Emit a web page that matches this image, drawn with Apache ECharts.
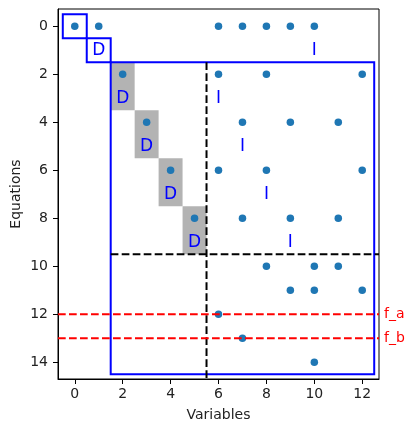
<!DOCTYPE html>
<html><head><meta charset="utf-8">
<script src="https://cdn.jsdelivr.net/npm/echarts@6/dist/echarts.min.js"></script>
<style>html,body{margin:0;padding:0;background:#fff}#c{width:414px;height:432px}</style>
</head><body><div id="c"></div>
<script>
const xTicks = [0, 2, 4, 6, 8, 10, 12];
const yTicks = [0, 2, 4, 6, 8, 10, 12, 14];
const points = [
  [0,0],[1,0],[6,0],[7,0],[8,0],[9,0],[10,0],
  [2,2],[6,2],[8,2],[12,2],
  [3,4],[7,4],[9,4],[11,4],
  [4,6],[6,6],[8,6],[12,6],
  [5,8],[7,8],[9,8],[11,8],
  [8,10],[10,10],[11,10],
  [9,11],[10,11],[12,11],
  [6,12],[7,13],[10,14]
];
const blueBoxes = [[-0.5,-0.5,0.5,0.5],[0.5,0.5,1.5,1.5],[1.5,1.5,12.5,14.5]];
const grayBlocks = [[1.5,1.5,2.5,3.5],[2.5,3.5,3.5,5.5],[3.5,5.5,4.5,7.5],[4.5,7.5,5.5,9.5]];
const dLabels = [[1,1,'D'],[2,3,'D'],[3,5,'D'],[4,7,'D'],[5,9,'D']];
const iLabels = [[10,1,'I'],[6,3,'I'],[7,5,'I'],[8,7,'I'],[9,9,'I']];
const blackDashes = [[5.5,1.5,5.5,14.7],[1.5,9.5,12.7,9.5]];
const redLines = [[12,'f_a'],[13,'f_b']];
const X_MIN = -0.7, X_MAX = 12.7, Y_MIN = -0.72, Y_MAX = 14.7;

const FONT = 'DejaVu Sans';
function rectRender(fill, stroke, lw) {
  return function (params, api) {
    const p0 = api.coord([api.value(0), api.value(1)]);
    const p1 = api.coord([api.value(2), api.value(3)]);
    return {
      type: 'rect',
      shape: { x: Math.min(p0[0], p1[0]), y: Math.min(p0[1], p1[1]),
               width: Math.abs(p1[0] - p0[0]), height: Math.abs(p1[1] - p0[1]) },
      style: { fill: fill, stroke: stroke, lineWidth: lw }
    };
  };
}
function textRender(params, api) {
  const p = api.coord([api.value(0), api.value(1)]);
  return {
    type: 'text', x: p[0], y: p[1],
    style: { text: api.value(2), fill: '#0000ff', font: '17px "' + FONT + '"',
             align: 'center', verticalAlign: 'middle' }
  };
}
const chart = echarts.init(document.getElementById('c'), null, { renderer: 'canvas' });
chart.setOption({
  animation: false,
  backgroundColor: '#fff',
  grid: { left: 58, top: 9, width: 321, height: 370, containLabel: false, outerBoundsMode: 'none',
          show: true, borderColor: '#000', borderWidth: 1, backgroundColor: 'transparent' },
  xAxis: {
    type: 'value', min: X_MIN, max: X_MAX,
    axisLine: { show: true, onZero: false, lineStyle: { color: '#000', width: 1 } },
    axisTick: { show: true, customValues: xTicks, length: 5, lineStyle: { color: '#000' } },
    axisLabel: { customValues: xTicks, fontSize: 14, color: '#222', fontFamily: FONT, margin: 8 },
    splitLine: { show: false },
    name: 'Variables', nameLocation: 'middle', nameGap: 29,
    nameTextStyle: { fontSize: 14, color: '#222', fontFamily: FONT }
  },
  yAxis: {
    type: 'value', min: Y_MIN, max: Y_MAX, inverse: true,
    axisLine: { show: true, onZero: false, lineStyle: { color: '#000', width: 1 } },
    axisTick: { show: true, customValues: yTicks, length: 5, lineStyle: { color: '#000' } },
    axisLabel: { customValues: yTicks, fontSize: 14, color: '#222', fontFamily: FONT, margin: 10 },
    splitLine: { show: false },
    name: 'Equations', nameLocation: 'middle', nameGap: 35, nameMoveOverlap: false,
    nameTextStyle: { fontSize: 14, color: '#222', fontFamily: FONT }
  },
  series: [
    { type: 'custom', data: grayBlocks, renderItem: rectRender('#b3b3b3', null, 0), z: 1 },
    { type: 'scatter', data: points, symbolSize: 7.5, itemStyle: { color: '#1f77b4', opacity: 1 }, z: 2 },
    { type: 'custom', data: dLabels.concat(iLabels), renderItem: textRender, z: 3 },
    { type: 'custom', data: blueBoxes, renderItem: rectRender('none', '#0000ff', 2), z: 4 },
    { type: 'custom', data: blackDashes, z: 5,
      renderItem: function (params, api) {
        const p0 = api.coord([api.value(0), api.value(1)]);
        const p1 = api.coord([api.value(2), api.value(3)]);
        return { type: 'line', shape: { x1: p0[0], y1: p0[1], x2: p1[0], y2: p1[1] },
                 style: { stroke: '#000', lineWidth: 2, lineDash: [7.7, 3.3] } };
      } },
    { type: 'custom', data: redLines, z: 6,
      renderItem: function (params, api) {
        const y = api.value(0);
        const p0 = api.coord([X_MIN, y]);
        const p1 = api.coord([X_MAX, y]);
        return { type: 'group', children: [
          { type: 'line', shape: { x1: p0[0], y1: p0[1], x2: p1[0], y2: p1[1] },
            style: { stroke: '#ff0000', lineWidth: 2, lineDash: [7.7, 3.3] } },
          { type: 'text', x: p1[0] + 5, y: p1[1],
            style: { text: redLines[params.dataIndex][1], fill: '#ff0000', font: '14px "' + FONT + '"',
                     align: 'left', verticalAlign: 'middle' } }
        ] };
      } }
  ]
});
</script></body></html>
